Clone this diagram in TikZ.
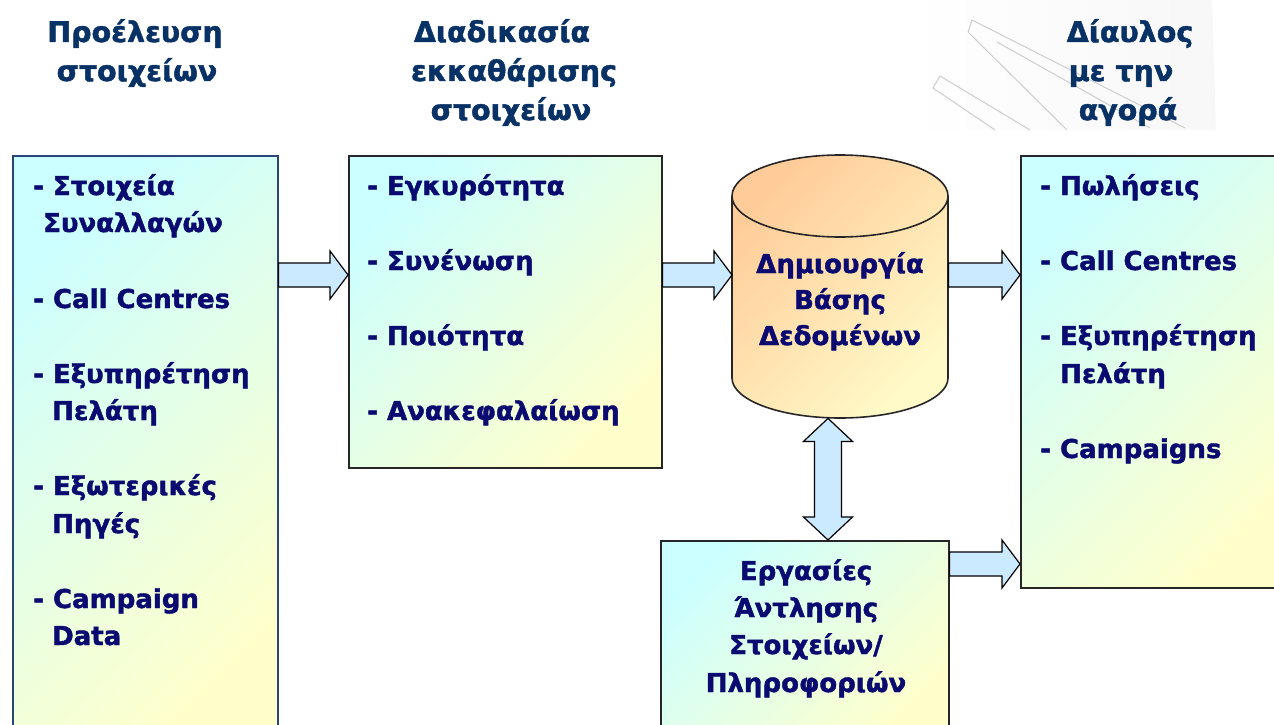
\documentclass[tikz,border=0pt]{standalone}
\usepackage{fontspec}
\setmainfont{DejaVu Sans}[BoldFeatures={FakeBold=1.6}]
\usetikzlibrary{calc}

\definecolor{headblue}{RGB}{8,50,102}
\definecolor{itemblue}{RGB}{10,10,112}
\definecolor{paleCyan}{RGB}{204,255,255}
\definecolor{paleYellow}{RGB}{255,255,204}
\definecolor{peach}{RGB}{255,204,153}
\definecolor{cream}{RGB}{255,250,200}
\definecolor{arrowfill}{RGB}{204,234,255}
\definecolor{srcedge}{RGB}{40,70,120}
\definecolor{sketch}{RGB}{205,205,205}

\begin{document}
\begin{tikzpicture}[x=1pt, y=-1pt,
  txt/.style={font=\fontsize{26}{30}\selectfont\bfseries, text=itemblue, inner sep=0pt},
  item/.style={txt, anchor=base west},
  mid/.style={txt, anchor=base},
  head/.style={txt, font=\fontsize{28.5}{32}\selectfont\bfseries, text=headblue, anchor=base},
  panel/.style={draw=black!85, line width=1.6pt, top color=paleCyan, bottom color=paleYellow,
                shading angle=45, anchor=north west, inner sep=0pt},
  blockarrow/.style={fill=arrowfill, draw=black, line width=1.2pt, line join=miter},
  outline/.style={draw=black!85, line width=1.6pt}
]
\useasboundingbox (0,0) rectangle (1274,725);
\clip (0,0) rectangle (1274,725);

% faint pencil sketch behind the market heading
\shade[left color=white, right color=gray!6] (905,0) -- (1212,0) -- (1216,130) -- (905,130) -- cycle;
\begin{scope}[sketch, line width=1pt]
  \draw (968,32) -- (972,20) -- (1185,128);
  \draw (968,32) -- (1067,130);
  \draw (997,42) -- (1150,128);
  \draw (933,88) -- (940,76) -- (1030,130);
  \draw (933,88) -- (995,130);
\end{scope}

% headings
\node[head] (h1a) at (135,42) {Προέλευση};
\node[head] (h1b) at (137,81) {στοιχείων};
\node[head] (h2a) at (502,42) {Διαδικασία};
\node[head] (h2b) at (514,81) {εκκαθάρισης};
\node[head] (h2c) at (511,120) {στοιχείων};
\node[head] (h3a) at (1130,42) {Δίαυλος};
\node[head] (h3b) at (1121,81) {με την};
\node[head] (h3c) at (1128,120) {αγορά};

% panels
\node[panel, draw=srcedge, minimum width=265pt, minimum height=590pt] (src) at (12,155) {};
\node[panel, minimum width=313pt, minimum height=312pt] (clean) at (348,155) {};
\node[panel, minimum width=270pt, minimum height=432pt] (market) at (1020,155) {};
\node[panel, minimum width=288pt, minimum height=200pt] (work) at (660,540) {};
\node[minimum width=216pt, minimum height=263pt, anchor=north west, inner sep=0pt] (db) at (732,155) {};

% database cylinder
\shade[top color=peach, bottom color=cream, shading angle=45]
  (732,196) -- (732,378) arc[start angle=180, end angle=360, x radius=108pt, y radius=40pt]
  -- (948,196) arc[start angle=0, end angle=180, x radius=108pt, y radius=41pt] -- cycle;
\draw[outline]
  (732,196) -- (732,378) arc[start angle=180, end angle=360, x radius=108pt, y radius=40pt]
  -- (948,196) arc[start angle=0, end angle=180, x radius=108pt, y radius=41pt] -- cycle;
\draw[outline] (732,196) arc[start angle=180, end angle=360, x radius=108pt, y radius=41pt];

% block arrows between stages
\draw[blockarrow] let \p1=(src.east), \p2=(clean.west) in
  (\x1,263) -- (\x2-18pt,263) -- (\x2-18pt,251) -- (\x2,275) -- (\x2-18pt,299)
  -- (\x2-18pt,287) -- (\x1,287) -- cycle;
\draw[blockarrow] let \p1=(clean.east), \p2=(db.west) in
  (\x1,263) -- (\x2-18pt,263) -- (\x2-18pt,251) -- (\x2,275) -- (\x2-18pt,299)
  -- (\x2-18pt,287) -- (\x1,287) -- cycle;
\draw[blockarrow] let \p1=(db.east), \p2=(market.west) in
  (\x1,263) -- (\x2-18pt,263) -- (\x2-18pt,251) -- (\x2,275) -- (\x2-18pt,299)
  -- (\x2-18pt,287) -- (\x1,287) -- cycle;
\draw[blockarrow] let \p1=(work.east), \p2=(market.west) in
  (\x1,552) -- (\x2-18pt,552) -- (\x2-18pt,540) -- (\x2,564) -- (\x2-18pt,588)
  -- (\x2-18pt,576) -- (\x1,576) -- cycle;
\draw[blockarrow] let \p1=(db.south), \p2=(work.north) in
  (828pt,\y1) -- (852.5pt,\y1-23pt) -- (841.5pt,\y1-23pt) -- (841.5pt,\y2+23pt)
  -- (852.5pt,\y2+23pt) -- (828pt,\y2) -- (803.5pt,\y2+23pt) -- (814.5pt,\y2+23pt)
  -- (814.5pt,\y1-23pt) -- (803.5pt,\y1-23pt) -- cycle;

% data sources
\node[item] (s1) at (33,195) {- Στοιχεία};
\node[item] (s1b) at (43,232) {Συναλλαγών};
\node[item] (s2) at (33,308) {- Call Centres};
\node[item] (s3) at (33,383) {- Εξυπηρέτηση};
\node[item] (s3b) at (52,420) {Πελάτη};
\node[item] (s4) at (33,495) {- Εξωτερικές};
\node[item] (s4b) at (52,533) {Πηγές};
\node[item] (s5) at (33,608) {- Campaign};
\node[item] (s5b) at (52,645) {Data};

% cleansing steps
\node[item] (c1) at (367,195) {- Εγκυρότητα};
\node[item] (c2) at (367,270) {- Συνένωση};
\node[item] (c3) at (367,345) {- Ποιότητα};
\node[item] (c4) at (367,420) {- Ανακεφαλαίωση};

% database label
\node[mid] (d1) at (840,273) {Δημιουργία};
\node[mid] (d2) at (840,309) {Βάσης};
\node[mid] (d3) at (840,345) {Δεδομένων};

% market channels
\node[item] (m1) at (1040,195) {- Πωλήσεις};
\node[item] (m2) at (1040,270) {- Call Centres};
\node[item] (m3) at (1040,345) {- Εξυπηρέτηση};
\node[item] (m3b) at (1060,383) {Πελάτη};
\node[item] (m4) at (1040,458) {- Campaigns};

% extraction jobs
\node[mid] (w1) at (806,580) {Εργασίες};
\node[mid] (w2) at (806,617) {Άντλησης};
\node[mid] (w3) at (806,654) {Στοιχείων/};
\node[mid] (w4) at (806,692) {Πληροφοριών};
\end{tikzpicture}
\end{document}
